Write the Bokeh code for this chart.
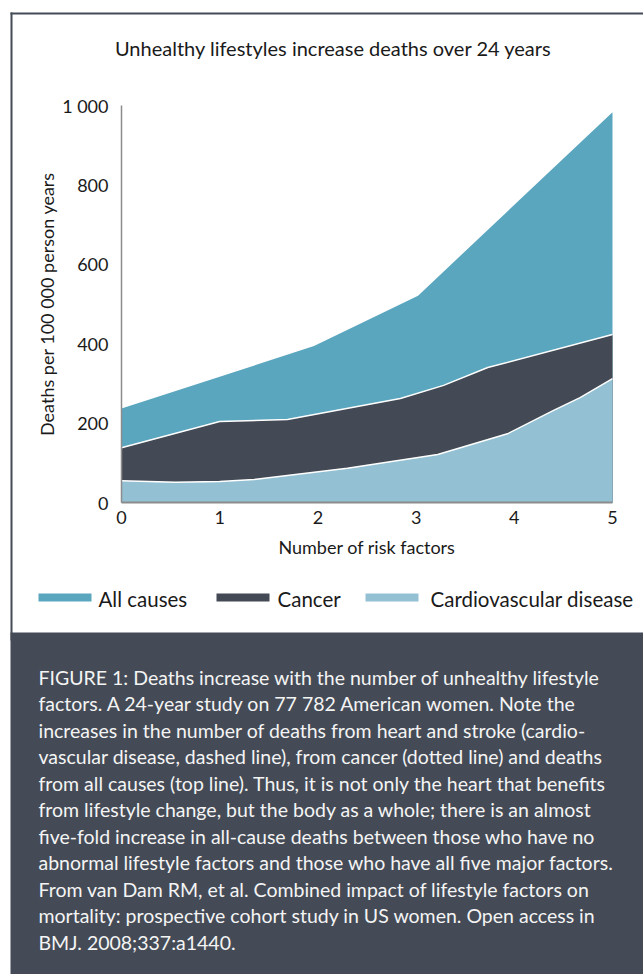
from bokeh.plotting import figure
from bokeh.models import Range1d, FixedTicker
from bokeh.core.properties import value
from bokeh.embed import file_html
from bokeh.resources import INLINE

# ---------------- data ----------------
title_text = "Unhealthy lifestyles increase deaths over 24 years"
x_label = "Number of risk factors"
y_label = "Deaths per 100 000 person years"
x_ticks = [0, 1, 2, 3, 4, 5]
y_ticks = [0, 200, 400, 600, 800, 1000]
y_tick_labels = ["0", "200", "400", "600", "800", "1 000"]

series_names = ["All causes", "Cancer", "Cardiovascular disease"]
series_colors = ["#5ba6bf", "#434a55", "#93c0d3"]

all_x = [0, 1.0, 1.96, 3.02, 5.0]
all_y = [237, 317, 394, 521, 983]

cancer_x = [0, 1.0, 1.69, 2.84, 3.28, 3.73, 5.0]
cancer_y = [138, 204, 209, 262, 295, 340, 423]

cvd_x = [0, 0.55, 1.0, 1.35, 2.3, 3.22, 3.93, 4.4, 4.67, 5.0]
cvd_y = [55, 51, 53, 58, 86, 121, 173, 232, 264, 312]

caption_lines = [
    "FIGURE 1: Deaths increase with the number of unhealthy lifestyle",
    "factors.  A 24-year study on 77 782 American women.  Note the",
    "increases in the number of deaths from heart and stroke (cardio-",
    "vascular disease, dashed line), from cancer (dotted line) and deaths",
    "from all causes (top line). Thus, it is not only the heart that benefits",
    "from lifestyle change, but the body as a whole; there is an almost",
    "five-fold increase in all-cause deaths between those who have no",
    "abnormal lifestyle factors and those who have all five major factors.",
    "From van Dam RM, et al. Combined impact of lifestyle factors on",
    "mortality: prospective cohort study in US women. Open access in",
    "BMJ. 2008;337:a1440.",
]

# ---------------- layout (page pixels) ----------------
W, H = 643, 974
OX, OY = 0, 0
PX0, PXU = 121.0, 98.2     # page x of data x=0, px per unit
PY0, PYU = 502.0, 0.397    # page y of data y=0, px per unit


def X(px):
    return (px - PX0) / PXU


def Y(py):
    return (PY0 - py) / PYU


DARK = "#444b56"
FONT = "Lato"

p = figure(width=W, height=H, output_backend="svg", toolbar_location=None,
           x_range=Range1d((OX - PX0) / PXU, (OX + W - PX0) / PXU),
           y_range=Range1d((PY0 - (OY + H)) / PYU, (PY0 - OY) / PYU),
           min_border=0, outline_line_color=None,
           background_fill_color="white", border_fill_color="white")
p.grid.visible = False

# frame border and caption panel
p.quad(left=[X(10)], right=[X(700)], top=[Y(12)], bottom=[Y(14)], fill_color=DARK, line_color=None)
p.quad(left=[X(10)], right=[X(12)], top=[Y(12)], bottom=[Y(640)], fill_color=DARK, line_color=None)
p.quad(left=[X(10)], right=[X(700)], top=[Y(632)], bottom=[Y(1000)], fill_color=DARK, line_color=None)

# stacked areas (each drawn from zero, later ones on top)
p.varea(x=all_x, y1=[0] * len(all_x), y2=all_y, fill_color=series_colors[0])
p.varea(x=cancer_x, y1=[0] * len(cancer_x), y2=cancer_y, fill_color=series_colors[1])
p.varea(x=cvd_x, y1=[0] * len(cvd_x), y2=cvd_y, fill_color=series_colors[2])
p.line(x=cancer_x, y=cancer_y, line_color="white", line_width=1.5)
p.line(x=cvd_x, y=cvd_y, line_color="white", line_width=1.5)

# axes
for ax in p.xaxis:
    ax.fixed_location = 0
    ax.bounds = (0, 5)
    ax.ticker = FixedTicker(ticks=x_ticks)
    ax.axis_line_color = "#8c8c8c"
    ax.axis_line_width = 2
    ax.major_label_standoff = 2
    ax.axis_label = x_label
    ax.axis_label_standoff = 9
for ax in p.yaxis:
    ax.fixed_location = 0
    ax.bounds = (0, 1000)
    ax.ticker = FixedTicker(ticks=y_ticks)
    ax.major_label_overrides = {t: s for t, s in zip(y_ticks, y_tick_labels)}
    ax.axis_line_color = "#8c8c8c"
    ax.axis_line_width = 1.5
    ax.major_label_standoff = 7
    ax.axis_label = y_label
    ax.axis_label_standoff = 1
for ax in p.axis:
    ax.major_tick_line_color = None
    ax.minor_tick_line_color = None
    ax.major_label_text_font = FONT
    ax.major_label_text_font_size = "18px"
    ax.major_label_text_color = "#1a1a1a"
    ax.axis_label_text_font = FONT
    ax.axis_label_text_font_size = "18px"
    ax.axis_label_text_font_style = "normal"
    ax.axis_label_text_color = "#1a1a1a"

# title
p.text(x=[X(333)], y=[Y(47)], text=[title_text], text_font=value(FONT),
       text_font_size=value("20px"), text_align="center", text_baseline="middle",
       text_color="#1a1a1a")

# legend
sw_left = [38, 216, 365]
tx_left = [98, 277, 430]
p.quad(left=[X(v) for v in sw_left], right=[X(v + 53) for v in sw_left],
       top=[Y(593)] * 3, bottom=[Y(601)] * 3, fill_color=series_colors, line_color=None)
p.text(x=[X(v) for v in tx_left], y=[Y(598)] * 3, text=series_names,
       text_font=value(FONT), text_font_size=value("20.5px"), text_align="left",
       text_baseline="middle", text_color="#1a1a1a")

# caption
p.text(x=[X(38)] * len(caption_lines),
       y=[Y(676.7 + 26.5 * i) for i in range(len(caption_lines))],
       text=caption_lines, text_font=value(FONT), text_font_size=value("19.5px"),
       text_align="left", text_baseline="middle", text_color="#f4f4f4")

open("out.html", "w").write(file_html(p, INLINE))
